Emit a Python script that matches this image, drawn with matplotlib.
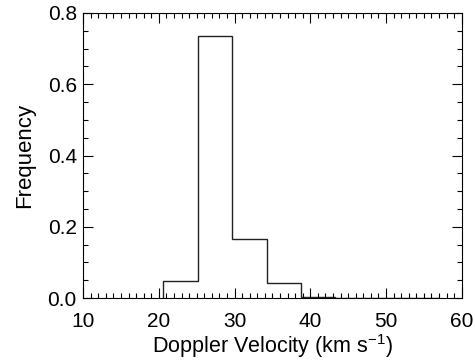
import matplotlib
matplotlib.use('Agg')
import matplotlib.pyplot as plt
from matplotlib.ticker import MultipleLocator, FormatStrFormatter

plt.rcParams['font.family'] = ['Liberation Sans', 'DejaVu Sans']
plt.rcParams['mathtext.fontset'] = 'custom'
plt.rcParams['mathtext.rm'] = 'Liberation Sans'
plt.rcParams['mathtext.it'] = 'Liberation Sans'

# histogram bin edges (km/s) and frequencies
bin_edges = [20.58, 25.13, 29.68, 34.23, 38.78, 43.33, 47.88, 52.43, 56.98]
frequency = [0.048, 0.735, 0.166, 0.043, 0.003, 0.0, 0.001, 0.0]

fig = plt.figure(figsize=(4.75, 3.6), dpi=100)
ax = fig.add_axes([0.175, 0.172, 0.797, 0.792])

ax.stairs(frequency, bin_edges, color='#222222', lw=1.0, baseline=0)

ax.set_xlim(10, 60)
ax.set_ylim(0, 0.8)
ax.xaxis.set_major_locator(MultipleLocator(10))
ax.xaxis.set_minor_locator(MultipleLocator(1))
ax.yaxis.set_major_locator(MultipleLocator(0.2))
ax.yaxis.set_minor_locator(MultipleLocator(0.05))
ax.yaxis.set_major_formatter(FormatStrFormatter('%.1f'))

ax.tick_params(which='both', direction='in', top=True, right=True,
               width=0.8, labelsize=15)
ax.tick_params(axis='x', which='major', pad=10)
ax.tick_params(axis='y', which='major', pad=4.5)
ax.tick_params(which='major', length=7)
ax.tick_params(which='minor', length=3.5)
for s in ax.spines.values():
    s.set_linewidth(0.8)

ax.set_xlabel('Doppler Velocity (km s$^{-1}$)', fontsize=15.5, labelpad=1)
ax.set_ylabel('Frequency', fontsize=16, labelpad=9)

fig.savefig('out.png', dpi=100)
